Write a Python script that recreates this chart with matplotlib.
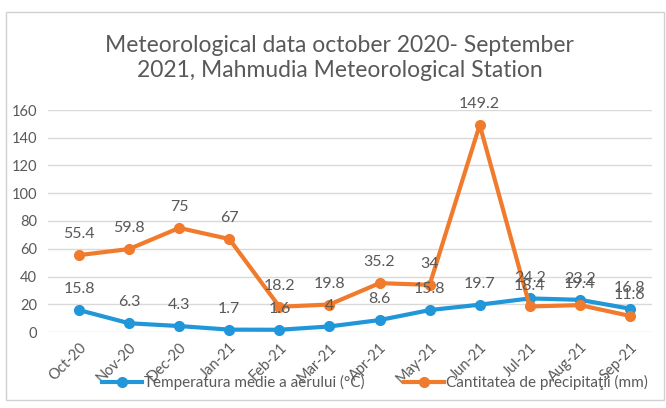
import matplotlib
matplotlib.use("Agg")
import matplotlib.pyplot as plt
from matplotlib.patches import Rectangle

plt.rcParams['font.family'] = ['Lato', 'DejaVu Sans']

#------------------------------------------------------------------------------
# Data
#------------------------------------------------------------------------------

months = ["Oct-20", "Nov-20", "Dec-20", "Jan-21", "Feb-21", "Mar-21",
          "Apr-21", "May-21", "Jun-21", "Jul-21", "Aug-21", "Sep-21"]
temperature = [15.8, 6.3, 4.3, 1.7, 1.6, 4, 8.6, 15.8, 19.7, 24.2, 23.2, 16.8]
precipitation = [55.4, 59.8, 75, 67, 18.2, 19.8, 35.2, 34, 149.2, 18.4, 19.4, 11.6]
yticks = [0, 20, 40, 60, 80, 100, 120, 140, 160]

title = "Meteorological data october 2020- September\n2021, Mahmudia Meteorological Station"
temp_label = "Temperatura medie a aerului (°C)"
prec_label = "Cantitatea de precipitaţii (mm)"

#------------------------------------------------------------------------------
# Plot
#------------------------------------------------------------------------------

blue = "#2196d8"
orange = "#f07b2c"
textgrey = "#595959"

fig = plt.figure(figsize=(6.66, 4.08), dpi=100)
ax = fig.add_axes([48/666, (408-332)/408, (652-48)/666, (332-110)/408])

# chart border
fig.patches.append(Rectangle((6/666, 8/408), 658/666, 388/408, transform=fig.transFigure,
                             fill=False, edgecolor="#d0d0d0", linewidth=1))

x = list(range(len(months)))

ax.plot(x, temperature, color=blue, linewidth=3, marker="o", markersize=7,
        label=temp_label, clip_on=False, zorder=3)
ax.plot(x, precipitation, color=orange, linewidth=3, marker="o", markersize=7,
        label=prec_label, clip_on=False, zorder=3)

for xi, v in zip(x, temperature):
    ax.annotate("%g" % v, (xi, v), xytext=(0, 10), textcoords="offset points",
                ha="center", va="bottom", fontsize=11.5, color=textgrey)
for xi, v in zip(x, precipitation):
    ax.annotate("%g" % v, (xi, v), xytext=(0, 10), textcoords="offset points",
                ha="center", va="bottom", fontsize=11.5, color=textgrey)

ax.set_xlim(-0.62, 11.44)
ax.set_ylim(0, 160)
ax.set_yticks(yticks)
ax.set_xticks(x)
ax.set_xticklabels(months, rotation=45, ha="right", rotation_mode="anchor")
ax.tick_params(axis="both", length=0, colors=textgrey, labelsize=10.5)
ax.tick_params(axis="y", pad=8)
ax.tick_params(axis="x", pad=6)

ax.grid(axis="y", color="#d9d9d9", linewidth=1)
ax.set_axisbelow(True)
for s in ax.spines.values():
    s.set_visible(False)

fig.text(0.51, 0.857, title, ha="center", va="center", fontsize=16.5,
         color=textgrey, linespacing=1.25)

fig.legend(loc="center", bbox_to_anchor=(0.563, 0.062), ncol=2, frameon=False,
           fontsize=11, handlelength=2.6, columnspacing=2.6, labelcolor=textgrey,
           handletextpad=0.15)

fig.savefig("out.png", dpi=100)
